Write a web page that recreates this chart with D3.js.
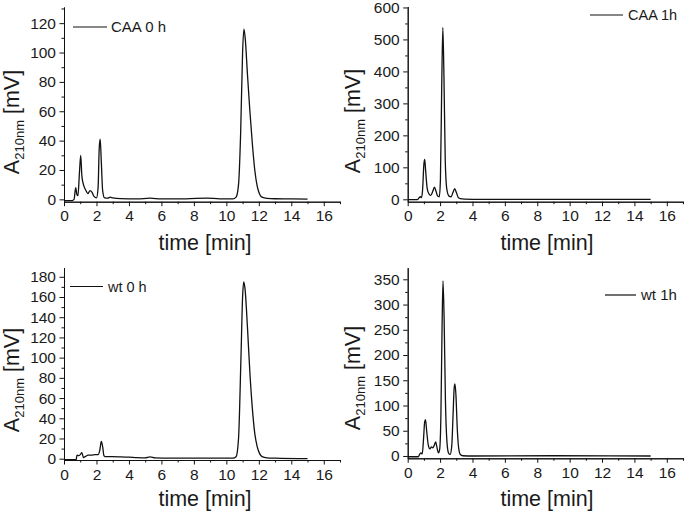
<!DOCTYPE html>
<html>
<head>
<meta charset="utf-8">
<script src="https://cdn.jsdelivr.net/npm/d3@7"></script>
<style>
  body { margin: 0; background: #fff; }
  svg { display: block; font-family: "Liberation Sans", Arial, sans-serif; }
</style>
</head>
<body>
<div id="chart"></div>
<script>
// chromatogram traces (time in min, signal in mV)
const caa0Time  = [0, 0.5, 0.62, 0.72, 0.8, 0.86, 0.95, 1.03, 1.1, 1.2, 1.35, 1.48, 1.6, 1.72, 1.85, 2.0, 2.1, 2.17, 2.23, 2.3, 2.38, 2.5, 2.7, 2.85, 3.0, 3.5, 4.5, 5.3, 6, 7.5, 8.8, 9.6, 10.4, 10.6, 10.75, 10.88, 11.0, 11.08, 11.16, 11.3, 11.45, 11.6, 11.75, 11.9, 12.05, 12.2, 12.5, 13, 14, 15];
const caa0Value = [-0.8, -0.8, 0, 8, 3, 2.5, 18, 30, 16, 10, 6, 4, 6, 5, 2, 1, 8, 35, 41, 25, 6, 1, 0.8, 1.5, 1, 0.5, 0.3, 0.8, 0.3, 0.3, 0.9, 0.3, 0.3, 1.5, 10, 45, 100, 116, 110, 85, 60, 38, 20, 9, 3.5, 1.5, 0.7, 0.4, 0.3, 0.2];

const caa1Time  = [0, 0.6, 0.7, 0.78, 0.85, 0.92, 1.0, 1.05, 1.1, 1.2, 1.3, 1.42, 1.55, 1.65, 1.75, 1.85, 1.95, 2.02, 2.1, 2.17, 2.24, 2.32, 2.42, 2.55, 2.68, 2.8, 2.9, 3.0, 3.12, 3.25, 3.5, 4, 15];
const caa1Value = [-1, -1, 5, 8, 5, 30, 110, 125, 95, 35, 18, 12, 25, 38, 25, 10, 8, 60, 350, 537, 380, 120, 30, 10, 8, 22, 33, 22, 6, 2, 0.5, 0, -0.5];

const wt0Time  = [0, 0.75, 0.8, 0.9, 1.0, 1.1, 1.2, 1.3, 1.5, 1.7, 1.9, 2.1, 2.2, 2.3, 2.38, 2.46, 2.6, 3.0, 3.5, 4.0, 4.5, 5.0, 5.3, 5.6, 6.5, 8, 10.4, 10.6, 10.75, 10.9, 11.0, 11.07, 11.15, 11.3, 11.45, 11.6, 11.75, 11.9, 12.05, 12.2, 12.5, 13, 15];
const wt0Value = [-1, -1, 3.5, 3, 4, 6, 1, 2, 3.5, 3.5, 4, 4, 8, 17, 12, 3, 2, 2, 1.8, 1.5, 1, 0.8, 1.8, 0.8, 0.5, 0.5, 0.5, 2, 20, 100, 160, 175, 168, 130, 85, 50, 25, 12, 5, 2, 0.8, 0.5, 0];

const wt1Time  = [0, 0.65, 0.75, 0.82, 0.9, 0.97, 1.05, 1.1, 1.17, 1.27, 1.37, 1.47, 1.55, 1.65, 1.73, 1.8, 1.9, 1.97, 2.05, 2.12, 2.18, 2.25, 2.33, 2.42, 2.52, 2.62, 2.72, 2.8, 2.87, 2.92, 2.98, 3.06, 3.15, 3.25, 3.4, 4, 9, 15];
const wt1Value = [-1.5, -1.5, 4, 6, 4, 30, 68, 72, 50, 22, 14, 18, 16, 22, 28, 18, 6, 12, 80, 250, 347, 270, 110, 30, 6, 3, 20, 80, 135, 143, 120, 55, 15, 3, 0.5, 0, 0.5, 0];

// tick values
const xTicks      = [0, 2, 4, 6, 8, 10, 12, 14, 16];
const xMinorTicks = [1, 3, 5, 7, 9, 11, 13, 15, 17];
const caa0YTicks  = [0, 20, 40, 60, 80, 100, 120];
const caa0YMinor  = [10, 30, 50, 70, 90, 110, 130];
const caa1YTicks  = [0, 100, 200, 300, 400, 500, 600];
const caa1YMinor  = [50, 150, 250, 350, 450, 550];
const wt0YTicks   = [0, 20, 40, 60, 80, 100, 120, 140, 160, 180];
const wt0YMinor   = [10, 30, 50, 70, 90, 110, 130, 150, 170];
const wt1YTicks   = [0, 50, 100, 150, 200, 250, 300, 350];
const wt1YMinor   = [25, 75, 125, 175, 225, 275, 325];

const legendLabels = ["CAA 0 h", "CAA 1h", "wt 0 h", "wt 1h"];

const width = 685, height = 516;
const svg = d3.select("#chart").append("svg")
  .attr("width", width)
  .attr("height", height);

const panels = [
  { time: caa0Time, value: caa0Value, yTicks: caa0YTicks, yMinor: caa0YMinor, yDomain: [-1.6, 131],
    left: 64, right: 340, top: 7, bottom: 201.7,
    leg: { x1: 73, x2: 107, y: 27, tx: 111, fs: 15 }, ylab: { x: 19, y: 122 }, xlab: { x: 205, y: 250 } },
  { time: caa1Time, value: caa1Value, yTicks: caa1YTicks, yMinor: caa1YMinor, yDomain: [-7.5, 603],
    left: 407.7, right: 683, top: 6.5, bottom: 201.7,
    leg: { x1: 590, x2: 623, y: 15, tx: 628, fs: 14.5 }, ylab: { x: 360, y: 121 }, xlab: { x: 547, y: 250 } },
  { time: wt0Time, value: wt0Value, yTicks: wt0YTicks, yMinor: wt0YMinor, yDomain: [-1.3, 189],
    left: 64, right: 340, top: 267.7, bottom: 460,
    leg: { x1: 70, x2: 103, y: 286.5, tx: 108, fs: 14.5 }, ylab: { x: 19, y: 380 }, xlab: { x: 205, y: 506 } },
  { time: wt1Time, value: wt1Value, yTicks: wt1YTicks, yMinor: wt1YMinor, yDomain: [-4.6, 373],
    left: 407.7, right: 683, top: 267.7, bottom: 458.3,
    leg: { x1: 605, x2: 636, y: 295, tx: 641, fs: 15 }, ylab: { x: 360, y: 378 }, xlab: { x: 547, y: 506 } }
];

panels.forEach((p, i) => {
  const x = d3.scaleLinear().domain([0, 17]).range([p.left, p.right]);
  const y = d3.scaleLinear().domain(p.yDomain).range([p.bottom, p.top]);
  const g = svg.append("g");

  // minor ticks first, then majors with labels
  g.append("g")
    .attr("transform", `translate(0,${p.bottom})`)
    .call(d3.axisBottom(x).tickValues(xMinorTicks).tickSize(2.5).tickSizeOuter(0).tickFormat(""));
  g.append("g")
    .attr("transform", `translate(${p.left},0)`)
    .call(d3.axisLeft(y).tickValues(p.yMinor).tickSize(2.5).tickSizeOuter(0).tickFormat(""));

  const xa = g.append("g")
    .attr("transform", `translate(0,${p.bottom})`)
    .call(d3.axisBottom(x).tickValues(xTicks).tickSize(4.5).tickSizeOuter(0).tickPadding(4).tickFormat(d3.format("d")));
  const ya = g.append("g")
    .attr("transform", `translate(${p.left},0)`)
    .call(d3.axisLeft(y).tickValues(p.yTicks).tickSize(4.5).tickSizeOuter(0).tickPadding(3.5).tickFormat(d3.format("d")));

  g.selectAll(".domain, .tick line").attr("stroke", "#111").attr("stroke-width", 1);
  [xa, ya].forEach(a => a.selectAll("text")
    .attr("fill", "#1a1a1a")
    .style("font-size", "15.5px")
    .style("font-family", "'Liberation Sans', Arial, sans-serif"));

  // trace
  const line = d3.line()
    .x((d, k) => x(p.time[k]))
    .y(d => y(d))
    .curve(d3.curveMonotoneX);
  g.append("path")
    .datum(p.value)
    .attr("fill", "none")
    .attr("stroke", "#111")
    .attr("stroke-width", 1.3)
    .attr("d", line);

  // legend
  g.append("line")
    .attr("x1", p.leg.x1).attr("x2", p.leg.x2)
    .attr("y1", p.leg.y).attr("y2", p.leg.y)
    .attr("stroke", "#111").attr("stroke-width", 1.2);
  g.append("text")
    .attr("x", p.leg.tx).attr("y", p.leg.y)
    .attr("dy", "0.35em")
    .attr("fill", "#1a1a1a")
    .style("font-size", p.leg.fs + "px")
    .text(legendLabels[i]);

  // axis titles
  g.append("text")
    .attr("x", p.xlab.x).attr("y", p.xlab.y)
    .attr("text-anchor", "middle")
    .attr("fill", "#1a1a1a")
    .style("font-size", "21.5px")
    .text("time [min]");

  const yl = g.append("text")
    .attr("transform", `translate(${p.ylab.x},${p.ylab.y}) rotate(-90)`)
    .attr("text-anchor", "middle")
    .attr("fill", "#1a1a1a")
    .style("font-size", "21.5px");
  yl.append("tspan").text("A");
  yl.append("tspan").attr("dy", 5).style("font-size", "13px").text("210nm");
  yl.append("tspan").attr("dy", -5).text(" [mV]");
});
</script>
</body>
</html>
